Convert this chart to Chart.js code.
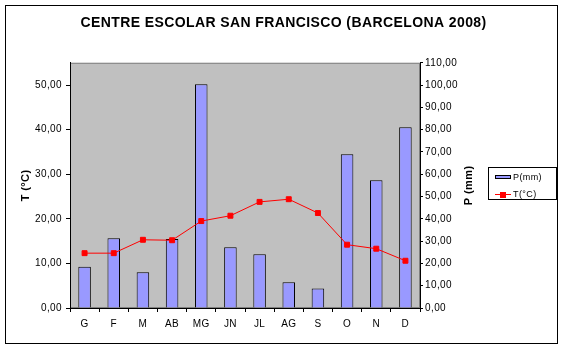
<!DOCTYPE html>
<html>
<head>
<meta charset="utf-8">
<script src="https://cdn.jsdelivr.net/npm/chart.js@4.4.0/dist/chart.umd.min.js"></script>
<style>
  html, body { margin: 0; padding: 0; background: #fff; }
</style>
</head>
<body>
<canvas id="chart" width="567" height="352"></canvas>
<script>
// monthly data
const months = ['G', 'F', 'M', 'AB', 'MG', 'JN', 'JL', 'AG', 'S', 'O', 'N', 'D'];
const precip = [18.5, 31.3, 16.0, 31.0, 100.4, 27.3, 24.1, 11.5, 8.8, 69.0, 57.3, 81.1]; // P (mm)
const temp = [12.3, 12.3, 15.3, 15.2, 19.5, 20.7, 23.8, 24.4, 21.3, 14.2, 13.3, 10.6];   // T (°C)

const FONT = 'Arial, "Liberation Sans", sans-serif';
const fmt = v => Number(v).toFixed(2).replace('.', ',');

// background, plot area, outer frame, right axis title and legend box
const frame = {
  id: 'frame',
  beforeDraw(chart) {
    const { ctx, chartArea: a } = chart;
    ctx.letterSpacing = '0.4px'; // the old spreadsheet text runs a bit wider
    ctx.save();
    ctx.fillStyle = '#fff';
    ctx.fillRect(0, 0, chart.width, chart.height);
    ctx.fillStyle = '#c0c0c0';
    ctx.fillRect(a.left, a.top, a.right - a.left, a.bottom - a.top);
    ctx.strokeStyle = '#808080';
    ctx.lineWidth = 1;
    ctx.strokeRect(a.left + 0.5, a.top + 0.5, a.right - a.left - 1, a.bottom - a.top - 1);
    ctx.restore();
  },
  afterDraw(chart) {
    const { ctx, chartArea: a } = chart;
    const bar = chart.data.datasets[1];
    const line = chart.data.datasets[0];
    ctx.save();
    // outer border
    ctx.strokeStyle = '#000';
    ctx.lineWidth = 1;
    ctx.strokeRect(5.5, 5.5, 552, 338);

    // right axis title, reading bottom to top
    ctx.fillStyle = '#000';
    ctx.font = 'bold 11px ' + FONT;
    ctx.textAlign = 'center';
    ctx.textBaseline = 'middle';
    ctx.translate(469, (a.top + a.bottom) / 2);
    ctx.rotate(-Math.PI / 2);
    ctx.fillText('P (mm)', 0, 0);
    ctx.setTransform(1, 0, 0, 1, 0, 0);

    // legend
    ctx.strokeRect(488.5, 167.5, 68, 32);
    ctx.fillStyle = bar.backgroundColor;
    ctx.fillRect(495, 175, 16, 4);
    ctx.strokeStyle = bar.borderColor;
    ctx.strokeRect(495.5, 175.5, 15, 3);
    ctx.strokeStyle = line.borderColor;
    ctx.beginPath();
    ctx.moveTo(495, 194.5);
    ctx.lineTo(511, 194.5);
    ctx.stroke();
    ctx.fillStyle = line.pointBackgroundColor;
    ctx.fillRect(500, 192, 6, 6);
    ctx.fillStyle = '#000';
    ctx.font = '9px ' + FONT;
    ctx.textAlign = 'left';
    ctx.fillText(bar.label, 513, 177.5);
    ctx.fillText(line.label, 513, 195);
    ctx.restore();
  }
};

new Chart(document.getElementById('chart'), {
  type: 'bar',
  data: {
    labels: months,
    datasets: [{
      type: 'line',
      label: 'T(°C)',
      data: temp,
      yAxisID: 'y',
      order: 1,
      borderColor: '#ff0000',
      borderWidth: 1,
      pointStyle: 'rect',
      pointRadius: 3.5,
      pointBackgroundColor: '#ff0000',
      pointBorderColor: '#ff0000',
      pointBorderWidth: 1,
      tension: 0
    }, {
      label: 'P(mm)',
      data: precip,
      yAxisID: 'y1',
      order: 2,
      backgroundColor: '#9999ff',
      borderColor: '#000',
      borderWidth: 1,
      categoryPercentage: 1,
      barPercentage: 0.43
    }]
  },
  options: {
    responsive: false,
    animation: false,
    events: [],
    layout: { padding: 0 },
    plugins: {
      legend: { display: false },
      tooltip: { enabled: false },
      title: {
        display: true,
        text: 'CENTRE ESCOLAR SAN FRANCISCO (BARCELONA 2008)',
        color: '#000',
        font: { family: FONT, size: 14, weight: 'bold', lineHeight: 1.2 },
        padding: { top: 15, bottom: 31 }
      }
    },
    scales: {
      x: {
        grid: { offset: true, drawOnChartArea: false, tickLength: 4, color: '#000' },
        border: { color: '#000', width: 1 },
        ticks: { color: '#000', padding: 6, maxRotation: 0, font: { family: FONT, size: 10 } },
        afterFit(s) { s.height = 44; }
      },
      y: {
        position: 'left',
        min: 0,
        max: 55,
        grid: { drawOnChartArea: false, tickLength: 4, color: '#000' },
        border: { color: '#000', width: 1 },
        ticks: { stepSize: 10, color: '#000', padding: 4, callback: fmt, font: { family: FONT, size: 10 } },
        afterBuildTicks(s) { s.ticks = s.ticks.filter(t => t.value <= 50); },
        title: {
          display: true,
          text: 'T (°C)',
          color: '#000',
          font: { family: FONT, size: 11, weight: 'bold' },
          padding: { top: 19, bottom: 0 }
        },
        afterFit(s) { s.width = 70; }
      },
      y1: {
        position: 'right',
        min: 0,
        max: 110,
        grid: { drawOnChartArea: false, tickLength: 3, color: '#000' },
        border: { color: '#000', width: 1 },
        ticks: { stepSize: 10, color: '#000', padding: 2, callback: fmt, font: { family: FONT, size: 10 } },
        afterFit(s) { s.width = 147; }
      }
    }
  },
  plugins: [frame]
});
</script>
</body>
</html>
